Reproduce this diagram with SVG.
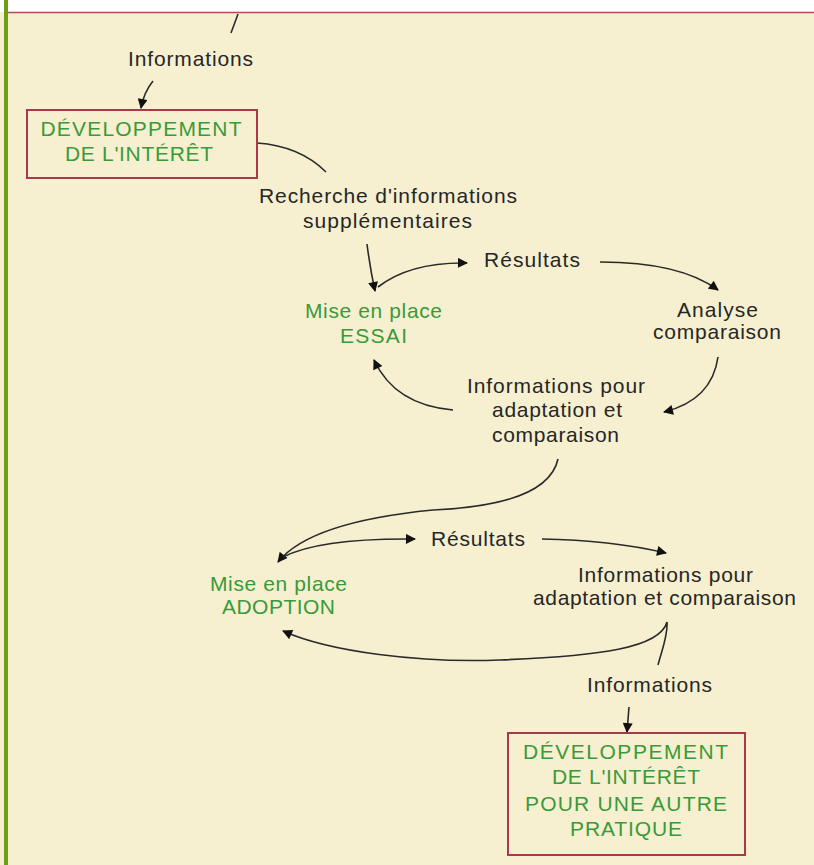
<svg xmlns="http://www.w3.org/2000/svg" width="814" height="865" viewBox="0 0 814 865">
<style>
.t{font-family:"Liberation Sans",Arial,sans-serif;font-size:21px;fill:#262626}
.g{font-family:"Liberation Sans",Arial,sans-serif;font-size:21px;fill:#3a9a3a}
.box{fill:none;stroke:#a8384a;stroke-width:2}
.c{fill:none;stroke:#2a2a2a;stroke-width:1.6}
.a{marker-end:url(#ah)}
</style>
<defs>
<marker id="ah" viewBox="0 0 10 10" refX="9" refY="5" markerWidth="11" markerHeight="10" markerUnits="userSpaceOnUse" orient="auto">
<path d="M0,0 L10,5 L0,10 z" fill="#111"/>
</marker>
</defs>
<rect x="0" y="0" width="814" height="865" fill="#f6f0d0"/>
<rect x="0" y="0" width="814" height="12" fill="#ffffff"/>
<line x1="8" y1="12.5" x2="814" y2="12.5" stroke="#b04a5a" stroke-width="1.5"/>
<rect x="4" y="0" width="4" height="865" fill="#6e9e14"/>

<g id="connectors">
<path class="c" d="M238,14 L231,33"/>
<path class="c a" d="M153,81 Q144,92 141,108"/>
<path class="c" d="M257,143 Q300,146 326,172"/>
<path class="c a" d="M367,244 Q370,268 375,291"/>
<path class="c a" d="M378,287 Q410,262 467,263"/>
<path class="c a" d="M600,262 Q680,262 718,290"/>
<path class="c a" d="M718,357 Q712,400 664,412"/>
<path class="c a" d="M453,410 Q395,405 374,360"/>
<path class="c a" d="M558,459 Q548,505 433,510 Q310,522 278,562"/>
<path class="c a" d="M283,557 Q320,538 415,539"/>
<path class="c a" d="M542,539 Q610,540 666,553"/>
<path class="c a" d="M658,665 C662,650 668,635 667,622 C660,648 600,656 500,660 C420,663 330,652 283,631"/>
<path class="c a" d="M629,707 L627,732"/>
</g>

<g id="n-informations1"><text class="t" x="190.5" y="66" text-anchor="middle" textLength="125" lengthAdjust="spacing">Informations</text></g>

<g id="n-dev1">
<rect class="box" x="27" y="110" width="230" height="68"/>
<text class="g" x="141" y="136" text-anchor="middle" textLength="201" lengthAdjust="spacing">DÉVELOPPEMENT</text>
<text class="g" x="139" y="161" text-anchor="middle" textLength="148" lengthAdjust="spacing">DE L'INTÉRÊT</text>
</g>

<g id="n-recherche">
<text class="t" x="388" y="203" text-anchor="middle" textLength="258" lengthAdjust="spacing">Recherche d'informations</text>
<text class="t" x="387.5" y="228" text-anchor="middle" textLength="169" lengthAdjust="spacing">supplémentaires</text>
</g>

<g id="n-resultats1"><text class="t" x="532" y="267" text-anchor="middle" textLength="96" lengthAdjust="spacing">Résultats</text></g>

<g id="n-essai">
<text class="g" x="373.5" y="318" text-anchor="middle" textLength="137" lengthAdjust="spacing">Mise en place</text>
<text class="g" x="373.5" y="343" text-anchor="middle" textLength="67" lengthAdjust="spacing">ESSAI</text>
</g>

<g id="n-analyse">
<text class="t" x="717.5" y="317" text-anchor="middle" textLength="81" lengthAdjust="spacing">Analyse</text>
<text class="t" x="717" y="339" text-anchor="middle" textLength="128" lengthAdjust="spacing">comparaison</text>
</g>

<g id="n-infopour1">
<text class="t" x="556" y="393" text-anchor="middle" textLength="178" lengthAdjust="spacing">Informations pour</text>
<text class="t" x="557" y="417" text-anchor="middle" textLength="130" lengthAdjust="spacing">adaptation et</text>
<text class="t" x="555.5" y="442" text-anchor="middle" textLength="127" lengthAdjust="spacing">comparaison</text>
</g>

<g id="n-resultats2"><text class="t" x="478" y="546" text-anchor="middle" textLength="94" lengthAdjust="spacing">Résultats</text></g>

<g id="n-adoption">
<text class="g" x="278.5" y="591" text-anchor="middle" textLength="137" lengthAdjust="spacing">Mise en place</text>
<text class="g" x="278.5" y="614" text-anchor="middle" textLength="113" lengthAdjust="spacing">ADOPTION</text>
</g>

<g id="n-infopour2">
<text class="t" x="665.5" y="582" text-anchor="middle" textLength="175" lengthAdjust="spacing">Informations pour</text>
<text class="t" x="664.5" y="605" text-anchor="middle" textLength="263" lengthAdjust="spacing">adaptation et comparaison</text>
</g>

<g id="n-informations2"><text class="t" x="649.5" y="692" text-anchor="middle" textLength="125" lengthAdjust="spacing">Informations</text></g>

<g id="n-dev2">
<rect class="box" x="508" y="733" width="237" height="122"/>
<text class="g" x="625.5" y="759" text-anchor="middle" textLength="205" lengthAdjust="spacing">DÉVELOPPEMENT</text>
<text class="g" x="626" y="784" text-anchor="middle" textLength="148" lengthAdjust="spacing">DE L'INTÉRÊT</text>
<text class="g" x="626" y="811" text-anchor="middle" textLength="202" lengthAdjust="spacing">POUR UNE AUTRE</text>
<text class="g" x="626" y="836" text-anchor="middle" textLength="112" lengthAdjust="spacing">PRATIQUE</text>
</g>
</svg>
